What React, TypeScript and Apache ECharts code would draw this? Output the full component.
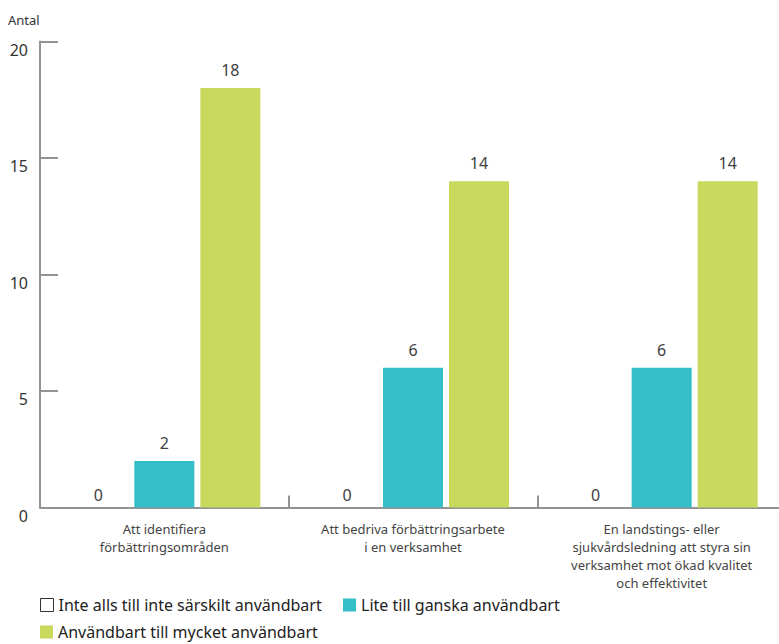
import { useEffect, useRef } from "react";
import * as echarts from "echarts";

const categories = [
  "Att identifiera\nförbättringsområden",
  "Att bedriva förbättringsarbete\ni en verksamhet",
  "En landstings- eller\nsjukvårdsledning att styra sin\nverksamhet mot ökad kvalitet\noch effektivitet",
];
const seriesNames = [
  "Inte alls till inte särskilt användbart",
  "Lite till ganska användbart",
  "Användbart till mycket användbart",
];
const notUseful = [0, 0, 0];
const somewhatUseful = [2, 6, 6];
const veryUseful = [18, 14, 14];
const yMin = 0;
const yMax = 20;
const yInterval = 5;
const yAxisTitle = "Antal";

const FONT = "'Noto Sans', sans-serif";
const AXIS = "#939393";
const TEXT = "#404040";

export default function App() {
  const ref = useRef<HTMLDivElement>(null);
  useEffect(() => {
    if (!ref.current) return;
    const chart = echarts.init(ref.current, null, { renderer: "svg" });
    const label = (distance: number) => ({
      show: true,
      position: "top",
      distance,
      fontSize: 16,
      color: TEXT,
      fontFamily: FONT,
    });
    const legendText = { fontSize: 16, color: "#222", fontFamily: FONT, padding: [0, 0, 0, 0] };
    const legendBase = {
      itemWidth: 13,
      itemHeight: 13,
      itemGap: 10,
      icon: "rect",
      padding: 0,
      selectedMode: false,
      textStyle: legendText,
    };
    chart.setOption({
      animation: false,
      textStyle: { fontFamily: FONT },
      title: {
        text: yAxisTitle,
        left: 8,
        top: 13,
        padding: 0,
        textStyle: { fontSize: 13, fontWeight: "normal", color: "#333", fontFamily: FONT },
      },
      grid: { left: 40, right: 4, top: 41.5, height: 466, containLabel: false },
      legend: [
        {
          ...legendBase,
          left: 40,
          top: 597,
          data: [
            {
              name: seriesNames[0],
              itemStyle: { color: "#ffffff", borderColor: "#333", borderWidth: 1 },
            },
          ],
        },
        {
          ...legendBase,
          left: 343,
          top: 597,
          data: [seriesNames[1]],
        },
        {
          ...legendBase,
          left: 40,
          top: 624,
          data: [seriesNames[2]],
        },
      ],
      xAxis: {
        type: "category",
        data: categories,
        axisLine: { lineStyle: { color: AXIS, width: 2 } },
        axisTick: { show: true, inside: true, length: 12, interval: 0, lineStyle: { color: AXIS, width: 2 } },
        axisLabel: {
          interval: 0,
          margin: 12,
          fontSize: 13,
          lineHeight: 18,
          color: "#444",
          fontFamily: FONT,
        },
      },
      yAxis: {
        type: "value",
        min: yMin,
        max: yMax,
        interval: yInterval,
        splitLine: { show: false },
        axisLine: { show: true, lineStyle: { color: AXIS, width: 2 } },
        axisTick: { show: true, inside: true, length: 18, lineStyle: { color: AXIS, width: 2 } },
        axisLabel: {
          margin: 12,
          fontSize: 16,
          color: "#333",
          fontFamily: FONT,
          verticalAlign: "top",
        },
      },
      series: [
        {
          name: seriesNames[0],
          type: "bar",
          data: notUseful,
          barWidth: 60,
          barGap: "10%",
          itemStyle: { color: "#ffffff" },
          label: label(5),
        },
        {
          name: seriesNames[1],
          type: "bar",
          data: somewhatUseful,
          barWidth: 60,
          barGap: "10%",
          itemStyle: { color: "#34BEC8" },
          label: label(10),
        },
        {
          name: seriesNames[2],
          type: "bar",
          data: veryUseful,
          barWidth: 60,
          barGap: "10%",
          itemStyle: { color: "#C8D95E" },
          label: label(10),
        },
      ],
    });
    return () => chart.dispose();
  }, []);
  return (
    <div
      style={{
        position: "absolute",
        left: 0,
        top: 0,
        width: 779,
        height: 644,
        overflow: "hidden",
        background: "#fff",
      }}
    >
      <div ref={ref} style={{ width: 790, height: 644 }} />
    </div>
  );
}
